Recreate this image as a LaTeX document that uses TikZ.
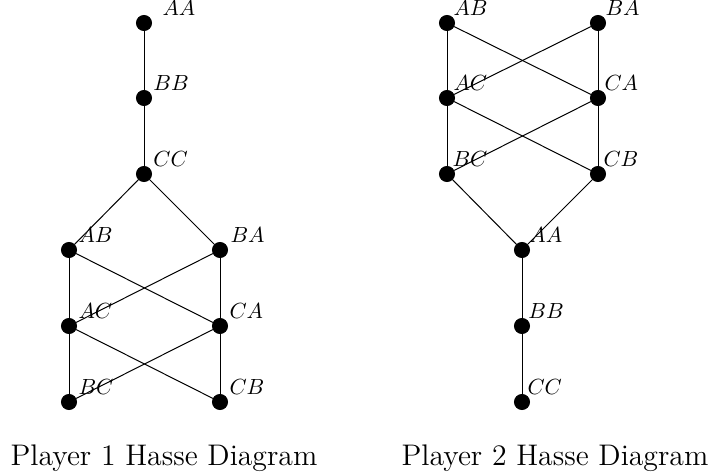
\documentclass[tikz,border=0pt]{standalone}
\usepackage{amsmath}
\usepackage{amssymb}
\usepackage{tikz}

\tikzset{
	dot/.style={circle, minimum size=7.5pt, inner sep=0pt, draw=black, fill=black},
	lbl/.style={anchor=base west, inner sep=0pt, font=\fontsize{10.95}{13}\selectfont},
	caption/.style={anchor=base, inner sep=0pt, font=\fontsize{14.9}{18}\selectfont}
}

\begin{document}
\begin{tikzpicture}[x=0.5pt, y=-0.5pt, line width=0.5pt]
	\useasboundingbox (0,0) rectangle (709,476);

	% Player 1
	\node (aa1) [dot] at (144,23) {};
	\node (bb1) [dot] at (144,98) {};
	\node (cc1) [dot] at (144,174) {};
	\node (ab1) [dot] at (69,250) {};
	\node (ba1) [dot] at (220,250) {};
	\node (ac1) [dot] at (69,326) {};
	\node (ca1) [dot] at (220,326) {};
	\node (bc1) [dot] at (69,402) {};
	\node (cb1) [dot] at (220,402) {};

	\node [lbl] at (162,16) {$AA$};
	\node [lbl] at (153,91) {$BB$};
	\node [lbl] at (153,167) {$CC$};
	\node [lbl] at (78,243) {$AB$};
	\node [lbl] at (230,243) {$BA$};
	\node [lbl] at (78,319) {$AC$};
	\node [lbl] at (229,319) {$CA$};
	\node [lbl] at (78,395) {$BC$};
	\node [lbl] at (229,395) {$CB$};

	\draw (aa1) -- (bb1) -- (cc1);
	\draw (cc1) -- (ab1);
	\draw (cc1) -- (ba1);
	\draw (ab1) -- (ac1) -- (bc1);
	\draw (ba1) -- (ca1) -- (cb1);
	\draw (ab1) -- (ca1);
	\draw (ba1) -- (ac1);
	\draw (ac1) -- (cb1);
	\draw (ca1) -- (bc1);

	% Player 2
	\node (ab2) [dot] at (447,23) {};
	\node (ba2) [dot] at (598,23) {};
	\node (ac2) [dot] at (447,98) {};
	\node (ca2) [dot] at (598,98) {};
	\node (bc2) [dot] at (447,174) {};
	\node (cb2) [dot] at (598,174) {};
	\node (aa2) [dot] at (522,250) {};
	\node (bb2) [dot] at (522,326) {};
	\node (cc2) [dot] at (522,402) {};

	\node [lbl] at (453,16) {$AB$};
	\node [lbl] at (605,16) {$BA$};
	\node [lbl] at (453,91) {$AC$};
	\node [lbl] at (604,91) {$CA$};
	\node [lbl] at (452,167) {$BC$};
	\node [lbl] at (603,167) {$CB$};
	\node [lbl] at (529,243) {$AA$};
	\node [lbl] at (528,319) {$BB$};
	\node [lbl] at (527,395) {$CC$};

	\draw (ab2) -- (ac2) -- (bc2);
	\draw (ba2) -- (ca2) -- (cb2);
	\draw (ab2) -- (ca2);
	\draw (ba2) -- (ac2);
	\draw (ac2) -- (cb2);
	\draw (ca2) -- (bc2);
	\draw (bc2) -- (aa2);
	\draw (cb2) -- (aa2);
	\draw (aa2) -- (bb2) -- (cc2);

	% captions
	\node (cap1) [caption] at (164,466) {Player 1 Hasse Diagram};
	\node (cap2) [caption] at (555,466) {Player 2 Hasse Diagram};
\end{tikzpicture}
\end{document}
